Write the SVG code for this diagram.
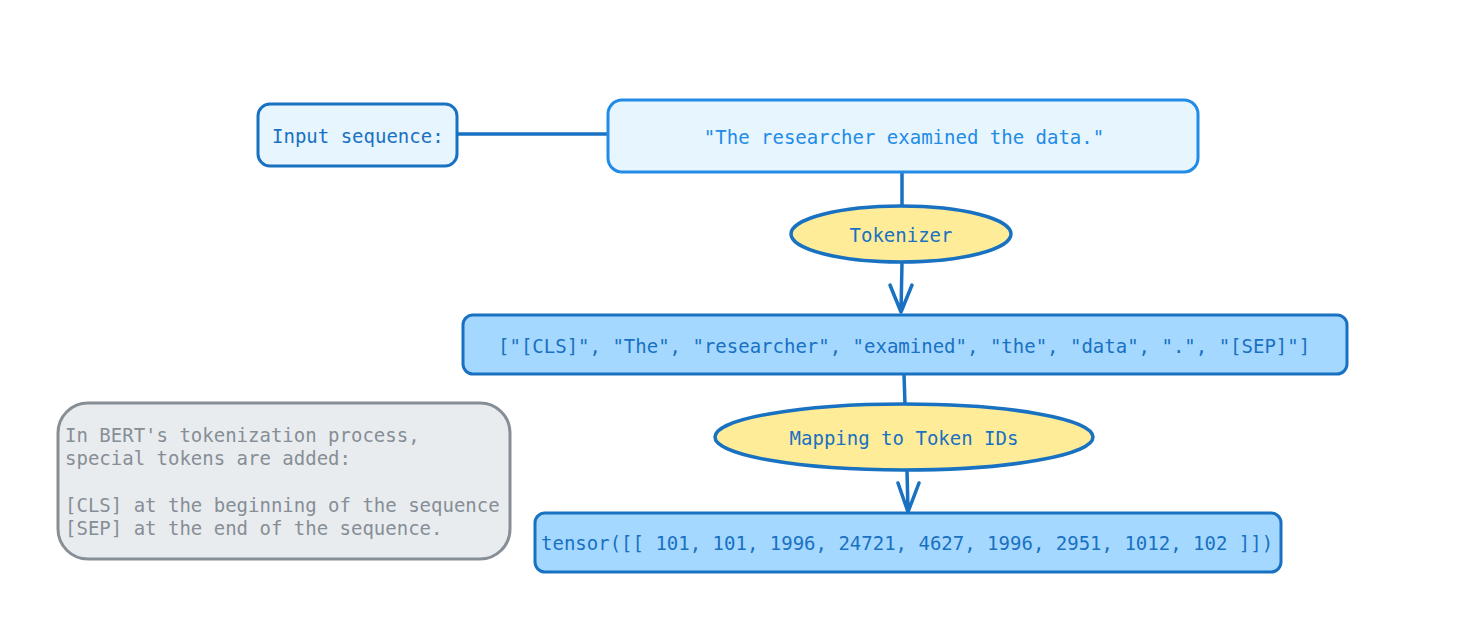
<svg xmlns="http://www.w3.org/2000/svg" width="1472" height="643" viewBox="0 0 1472 643">
  <style>
    text { font-family: "DejaVu Sans Mono", "Liberation Mono", monospace; font-size: 19px; }
    .t { fill: #1971c2; text-anchor: middle; dominant-baseline: central; }
    .tl { fill: #1971c2; dominant-baseline: central; }
    .q { fill: #228be6; text-anchor: middle; dominant-baseline: central; }
    .g { fill: #868e96; }
    .light { fill: #e7f5ff; stroke: #1971c2; stroke-width: 3; }
    .lightq { fill: #e7f5ff; stroke: #228be6; stroke-width: 3; }
    .mid { fill: #a5d8ff; stroke: #1971c2; stroke-width: 3; }
    .ell { fill: #ffec99; stroke: #1971c2; stroke-width: 3.5; }
    .note { fill: #e9ecef; stroke: #868e96; stroke-width: 3; }
    .c { fill: none; stroke: #1971c2; stroke-width: 3.5; stroke-linecap: round; stroke-linejoin: round; }
  </style>
  <rect width="1472" height="643" fill="#ffffff"/>

  <g id="connectors">
    <path class="c" d="M457 134 L608 134"/>
    <path class="c" d="M902 172 L902 207"/>
    <path class="c" d="M902 262 L901 312 M890 285 L901 312 L912 285"/>
    <path class="c" d="M904 374 L905 405"/>
    <path class="c" d="M907 470 L908 512 M898 483 L908 512 L919 483"/>
  </g>

  <g id="input-label">
    <rect class="light" x="258" y="104" width="199" height="62" rx="12"/>
    <text class="tl" x="272" y="136">Input sequence:</text>
  </g>

  <g id="input-sentence">
    <rect class="lightq" x="608" y="100" width="590" height="72" rx="14"/>
    <text class="q" x="904" y="137">"The researcher examined the data."</text>
  </g>

  <g id="tokenizer">
    <ellipse class="ell" cx="901" cy="234" rx="110" ry="28"/>
    <text class="t" x="901" y="235">Tokenizer</text>
  </g>

  <g id="tokens">
    <rect class="mid" x="463" y="315" width="884" height="59" rx="10"/>
    <text class="tl" x="498" y="346">["[CLS]", "The", "researcher", "examined", "the", "data", ".", "[SEP]"]</text>
  </g>

  <g id="mapping">
    <ellipse class="ell" cx="904" cy="437" rx="189" ry="33"/>
    <text class="t" x="904" y="438">Mapping to Token IDs</text>
  </g>

  <g id="tensor">
    <rect class="mid" x="535" y="513" width="746" height="59" rx="10"/>
    <text class="tl" x="541" y="543">tensor([[ 101, 101, 1996, 24721, 4627, 1996, 2951, 1012, 102 ]])</text>
  </g>

  <g id="note">
    <rect class="note" x="58" y="403" width="452" height="156" rx="30"/>
    <text class="g" x="65" y="442">In BERT's tokenization process,</text>
    <text class="g" x="65" y="465">special tokens are added:</text>
    <text class="g" x="65" y="512">[CLS] at the beginning of the sequence</text>
    <text class="g" x="65" y="535">[SEP] at the end of the sequence.</text>
  </g>
</svg>
